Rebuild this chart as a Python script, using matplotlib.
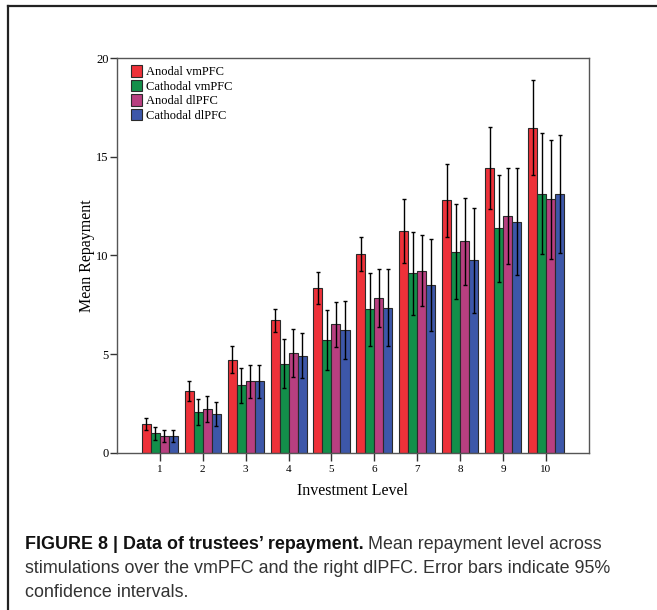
import numpy as np
import matplotlib
matplotlib.use("Agg")
import matplotlib.pyplot as plt
from matplotlib.lines import Line2D
from matplotlib.patches import Patch

# Mean repayment per investment level, with 95% CI half-widths
levels = [1, 2, 3, 4, 5, 6, 7, 8, 9, 10]
groups = ["Anodal vmPFC", "Cathodal vmPFC", "Anodal dlPFC", "Cathodal dlPFC"]

anodal_vm = [1.48, 3.13, 4.73, 6.72, 8.35, 10.10, 11.26, 12.79, 14.44, 16.48]
cathodal_vm = [0.99, 2.09, 3.43, 4.53, 5.72, 7.27, 9.09, 10.20, 11.39, 13.13]
anodal_dl = [0.87, 2.22, 3.62, 5.07, 6.51, 7.86, 9.24, 10.71, 12.02, 12.84]
cathodal_dl = [0.87, 1.98, 3.62, 4.93, 6.23, 7.36, 8.50, 9.76, 11.72, 13.10]

anodal_vm_ci = [0.30, 0.50, 0.68, 0.59, 0.79, 0.86, 1.62, 1.85, 2.09, 2.39]
cathodal_vm_ci = [0.33, 0.66, 0.89, 1.24, 1.53, 1.83, 2.08, 2.39, 2.71, 3.07]
anodal_dl_ci = [0.30, 0.66, 0.85, 1.23, 1.14, 1.47, 1.80, 2.19, 2.43, 3.02]
cathodal_dl_ci = [0.30, 0.59, 0.85, 1.14, 1.48, 1.96, 2.32, 2.66, 2.70, 2.99]

colors = ["#ee3139", "#138f4a", "#b83f80", "#3d57a9"]

means = [anodal_vm, cathodal_vm, anodal_dl, cathodal_dl]
cis = [anodal_vm_ci, cathodal_vm_ci, anodal_dl_ci, cathodal_dl_ci]

serif = ["Liberation Serif", "DejaVu Serif"]

fig = plt.figure(figsize=(6.57, 6.10), dpi=100)
ax = fig.add_axes([0.178, 0.2574, 0.7184, 0.6475])

x = np.array(levels, dtype=float)
w = 0.21
for i in range(4):
    offs = (i - 1.5) * w
    ax.bar(x + offs, means[i], width=w, color=colors[i],
           edgecolor="#2a2a2a", linewidth=0.8, zorder=2)
    ax.errorbar(x + offs, means[i], yerr=cis[i], fmt="none",
                ecolor="black", elinewidth=1.0, capsize=1.5,
                capthick=1.0, zorder=3)

ax.set_xlim(0, 11)
ax.set_ylim(0, 20)
ax.set_xticks(levels)
ax.set_xticklabels([str(v) for v in levels], fontfamily=serif, fontsize=8)
ax.set_yticks([0, 5, 10, 15, 20])
ax.set_yticklabels(["0", "5", "10", "15", "20"], fontfamily=serif, fontsize=9)
ax.tick_params(axis="x", length=6, width=1, color="#333333", pad=3)
ax.tick_params(axis="y", length=5, width=1, color="#333333", pad=1)
for s in ax.spines.values():
    s.set_color("#555555")
    s.set_linewidth(1.0)

ax.set_xlabel("Investment Level", fontfamily=serif, fontsize=11.5, labelpad=6)
ax.set_ylabel("Mean Repayment", fontfamily=serif, fontsize=11.5, labelpad=1)

handles = [Patch(facecolor=colors[i], edgecolor="#2a2a2a", linewidth=0.8)
           for i in range(4)]
ax.legend(handles, groups, loc="upper left", frameon=False,
          prop={"family": serif, "size": 9}, handlelength=0.85,
          handleheight=1.05, handletextpad=0.3, labelspacing=0.12,
          borderaxespad=0.0, bbox_to_anchor=(0.02, 0.995))

# outer frame: top and left lines only
fig.add_artist(Line2D([8 / 657, 1.0], [1 - 6 / 610, 1 - 6 / 610],
                      transform=fig.transFigure, color="#222222", lw=1.6))
fig.add_artist(Line2D([8 / 657, 8 / 657], [1 - 6 / 610, 0.0],
                      transform=fig.transFigure, color="#222222", lw=1.6))

# caption
cap = ["Liberation Sans", "DejaVu Sans"]
fs = 12.9
x0 = 25 / 657
y1, y2, y3 = 1 - 549 / 610, 1 - 573 / 610, 1 - 597 / 610
fig.text(x0, y1, "FIGURE 8 | Data of trustees\u2019 repayment.",
         fontfamily=cap, fontsize=fs, fontweight="bold", va="baseline",
         color="#111111")
fig.text(x0, y2,
         "stimulations over the vmPFC and the right dlPFC. Error bars indicate 95%",
         fontfamily=cap, fontsize=fs, va="baseline", color="#333333")
fig.text(x0, y3, "confidence intervals.",
         fontfamily=cap, fontsize=fs, va="baseline", color="#333333")
fig.canvas.draw()
bb = fig.texts[0].get_window_extent()
fig.text(bb.x1 / fig.bbox.width + 0.006, y1,
         "Mean repayment level across", fontfamily=cap, fontsize=fs,
         va="baseline", color="#333333")

fig.savefig("out.png", dpi=100)
